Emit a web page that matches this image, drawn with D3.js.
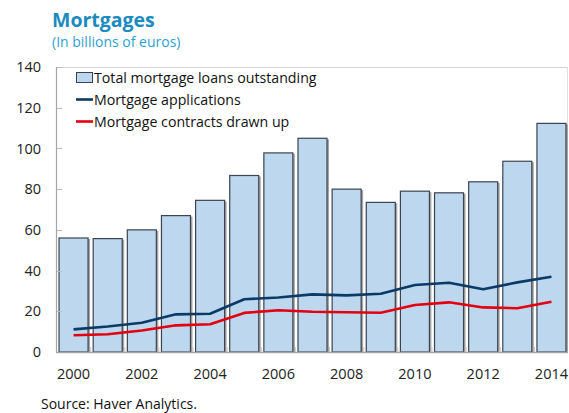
<!DOCTYPE html>
<html>
<head>
<meta charset="utf-8">
<script src="https://cdn.jsdelivr.net/npm/d3@7/dist/d3.min.js"></script>
<style>
  html, body { margin: 0; padding: 0; background: #fff; }
  svg { display: block; font-family: "Open Sans", sans-serif; }
</style>
</head>
<body>
<svg id="chart" width="569" height="413"></svg>
<script>
const years = ["2000","2001","2002","2003","2004","2005","2006","2007","2008","2009","2010","2011","2012","2013","2014"];
const loansOutstanding = [56, 55.7, 60, 67, 74.5, 86.7, 97.8, 105, 80, 73.5, 79, 78.2, 83.6, 93.7, 112.3];
const applications = [11.1, 12.5, 14.4, 18.5, 18.8, 25.9, 26.8, 28.3, 27.8, 28.6, 32.9, 34.0, 30.8, 34.2, 37.0];
const contracts = [8.2, 8.7, 10.6, 13.1, 13.6, 19.2, 20.5, 19.8, 19.5, 19.3, 23.1, 24.4, 21.9, 21.5, 24.7];
const yTicks = [0, 20, 40, 60, 80, 100, 120, 140];
const xTickLabels = ["2000","2002","2004","2006","2008","2010","2012","2014"];
const seriesNames = ["Total mortgage loans outstanding", "Mortgage applications", "Mortgage contracts drawn up"];

const svg = d3.select("#chart");
const L = 57, R = 568, T = 67, B = 352;

const x = d3.scaleBand().domain(years).range([L, R]).paddingInner(0.15).paddingOuter(0.06);
const y = d3.scaleLinear().domain([0, 140]).range([B, T]);

// Title
svg.append("text").attr("x", 52).attr("y", 26.5)
  .attr("fill", "#1a8bbf").attr("font-weight", 700).attr("font-size", 19.5)
  .text("Mortgages");
svg.append("text").attr("x", 52).attr("y", 47)
  .attr("fill", "#2f9fd3").attr("font-size", 14)
  .text("(In billions of euros)");

// frame top/right
svg.append("line").attr("x1", L).attr("x2", R).attr("y1", T + 0.5).attr("y2", T + 0.5)
  .attr("stroke", "#d4d4d4").attr("stroke-width", 1);
svg.append("line").attr("x1", R - 0.5).attr("x2", R - 0.5).attr("y1", T).attr("y2", B)
  .attr("stroke", "#e0e0e0").attr("stroke-width", 1);

// bars: shadow then bar
const bars = svg.append("g");
bars.selectAll("rect.shadow").data(loansOutstanding).join("rect")
  .attr("class", "shadow")
  .attr("x", (d, i) => x(years[i]) + 2)
  .attr("y", d => y(d) + 1)
  .attr("width", x.bandwidth())
  .attr("height", d => B - y(d) - 1)
  .attr("fill", "#a6a6a6");
bars.selectAll("rect.bar").data(loansOutstanding).join("rect")
  .attr("class", "bar")
  .attr("x", (d, i) => x(years[i]))
  .attr("y", d => y(d))
  .attr("width", x.bandwidth())
  .attr("height", d => B - y(d))
  .attr("fill", "#bdd7ee")
  .attr("stroke", "#3a4450")
  .attr("stroke-width", 1.2);

// x-axis ticks at band boundaries (small, upward)
const bounds = years.slice(1).map(yr => x(yr) - x.step() * x.paddingInner() / 2);
svg.append("g").selectAll("line").data(bounds).join("line")
  .attr("x1", d => d).attr("x2", d => d)
  .attr("y1", B).attr("y2", B - 5)
  .attr("stroke", "#c8c8c8").attr("stroke-width", 1);

// y axis
const yAxis = d3.axisLeft(y).tickValues(yTicks).tickSize(0).tickPadding(16);
const yg = svg.append("g").attr("transform", `translate(${L},0)`).call(yAxis);
yg.select(".domain").remove();
yg.selectAll("text").attr("font-size", 14.5).attr("fill", "#222").attr("font-family", "Open Sans, sans-serif");
svg.append("g").selectAll("line").data(yTicks).join("line")
  .attr("x1", L).attr("x2", L + 5)
  .attr("y1", d => Math.round(y(d)) + 0.5).attr("y2", d => Math.round(y(d)) + 0.5)
  .attr("stroke", "#bdbdbd");
svg.append("line").attr("x1", L - 0.5).attr("x2", L - 0.5).attr("y1", T).attr("y2", B + 1)
  .attr("stroke", "#a6a6a6").attr("stroke-width", 1.2);

// x axis
const xAxis = d3.axisBottom(x).tickValues(xTickLabels).tickSize(0).tickPadding(17);
const xg = svg.append("g").attr("transform", `translate(0,${B})`).call(xAxis);
xg.select(".domain").remove();
xg.selectAll("text").attr("font-size", 14.5).attr("fill", "#222").attr("font-family", "Open Sans, sans-serif");
svg.append("line").attr("x1", L - 1).attr("x2", R).attr("y1", B + 0.5).attr("y2", B + 0.5)
  .attr("stroke", "#a6a6a6").attr("stroke-width", 1.5);

// lines
const lineGen = d3.line()
  .x((d, i) => x(years[i]) + x.bandwidth() / 2)
  .y(d => y(d));
svg.append("path").datum(applications).attr("d", lineGen)
  .attr("fill", "none").attr("stroke", "#0b3a66").attr("stroke-width", 2.6).attr("stroke-linejoin", "round");
svg.append("path").datum(contracts).attr("d", lineGen)
  .attr("fill", "none").attr("stroke", "#e3000f").attr("stroke-width", 2.6).attr("stroke-linejoin", "round");

// legend
const lg = svg.append("g");
lg.append("rect").attr("x", 76.5).attr("y", 72.5).attr("width", 16).attr("height", 10)
  .attr("fill", "#bdd7ee").attr("stroke", "#3a4450").attr("stroke-width", 1);
lg.append("line").attr("x1", 76).attr("x2", 93).attr("y1", 99.5).attr("y2", 99.5)
  .attr("stroke", "#0b3a66").attr("stroke-width", 2.6);
lg.append("line").attr("x1", 76).attr("x2", 93).attr("y1", 121.5).attr("y2", 121.5)
  .attr("stroke", "#e3000f").attr("stroke-width", 2.6);
const legY = [82.5, 104.5, 126.5];
lg.selectAll("text").data(seriesNames).join("text")
  .attr("x", 94).attr("y", (d, i) => legY[i])
  .attr("font-size", 14.2).attr("fill", "#111")
  .text(d => d);

// source
svg.append("text").attr("x", 41).attr("y", 409)
  .attr("font-size", 14).attr("fill", "#111")
  .text("Source: Haver Analytics.");
</script>
</body>
</html>
